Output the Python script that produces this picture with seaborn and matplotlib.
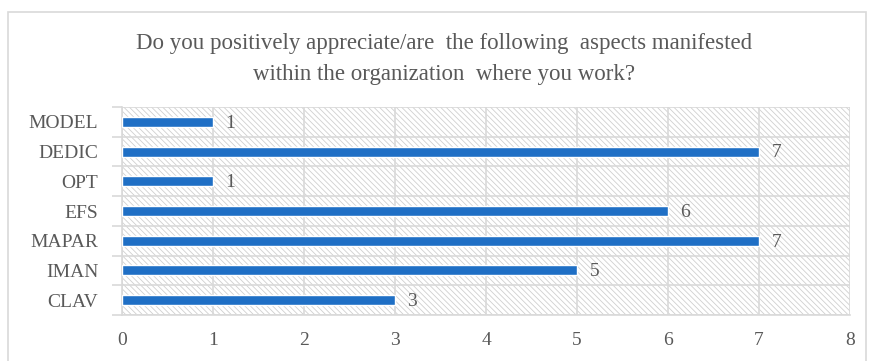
import matplotlib
matplotlib.use("Agg")
import matplotlib.pyplot as plt
import seaborn as sns
import pandas as pd
from matplotlib.patches import Rectangle

categories = ["MODEL", "DEDIC", "OPT", "EFS", "MAPAR", "IMAN", "CLAV"]
values = [1, 7, 1, 6, 7, 5, 3]
x_ticks = [0, 1, 2, 3, 4, 5, 6, 7, 8]
title = "Do you positively appreciate/are  the following  aspects manifested\nwithin the organization  where you work?"

df = pd.DataFrame({"aspect": categories, "count": values})

sns.set_theme(style="white")
plt.rcParams["font.family"] = ["Liberation Serif", "DejaVu Serif"]
grey = "#595959"
gridc = "#d9d9d9"

fig = plt.figure(figsize=(8.69, 3.61), dpi=100)
ax = fig.add_axes([122/869, 1-315/361, (850-122)/869, (315-107)/361])

# outer chart border
fig.patches.append(Rectangle((8/869, -0.02), 858/869, 1-12/361+0.02, transform=fig.transFigure,
                             fill=False, edgecolor="#d9d9d9", linewidth=1.2))

# hatched plot background
plt.rcParams["hatch.color"] = "#cfcfcf"
plt.rcParams["hatch.linewidth"] = 0.6
ax.add_patch(Rectangle((0, 0), 1, 1, transform=ax.transAxes, facecolor="white",
                       hatch="\\\\\\\\\\\\", edgecolor="#cfcfcf", linewidth=0, zorder=0))

sns.barplot(data=df, y="aspect", x="count", order=categories, orient="h",
            color="#1F6FC5", width=0.34, saturation=1, ax=ax, zorder=3)

ax.set_xlim(0, 8)
ax.set_ylim(len(categories)-0.5, -0.5)
ax.set_xticks(x_ticks)
ax.set_xticklabels([str(t) for t in x_ticks])
ax.set_yticks(range(len(categories)), minor=False)
ax.set_yticks([i - 0.5 for i in range(len(categories)+1)], minor=True)
ax.grid(False)
ax.grid(True, axis="x", which="major", color=gridc, linewidth=1.2, zorder=1)
ax.grid(True, axis="y", which="minor", color=gridc, linewidth=1.2, zorder=1)
ax.set_axisbelow(True)
ax.tick_params(axis="y", which="major", length=0, labelsize=14, colors=grey, pad=17)
ax.tick_params(axis="y", which="minor", length=7, color=gridc, width=1.2, direction="out", left=True)
ax.tick_params(axis="x", which="major", length=0, labelsize=14, colors=grey, pad=12)
for s in ["top", "right"]:
    ax.spines[s].set_visible(False)
for s in ["left", "bottom"]:
    ax.spines[s].set_color(gridc)
    ax.spines[s].set_linewidth(1.2)
ax.set_xlabel("")
ax.set_ylabel("")

for i, v in enumerate(values):
    ax.annotate(str(v), xy=(v, i), xytext=(9, -1), textcoords="offset points",
                ha="left", va="center", fontsize=14, color=grey)

fig.text(0.511, 1-59/361, title, ha="center", va="center", fontsize=16.5,
         color=grey, linespacing=1.6)

fig.savefig("out.png", dpi=100)
